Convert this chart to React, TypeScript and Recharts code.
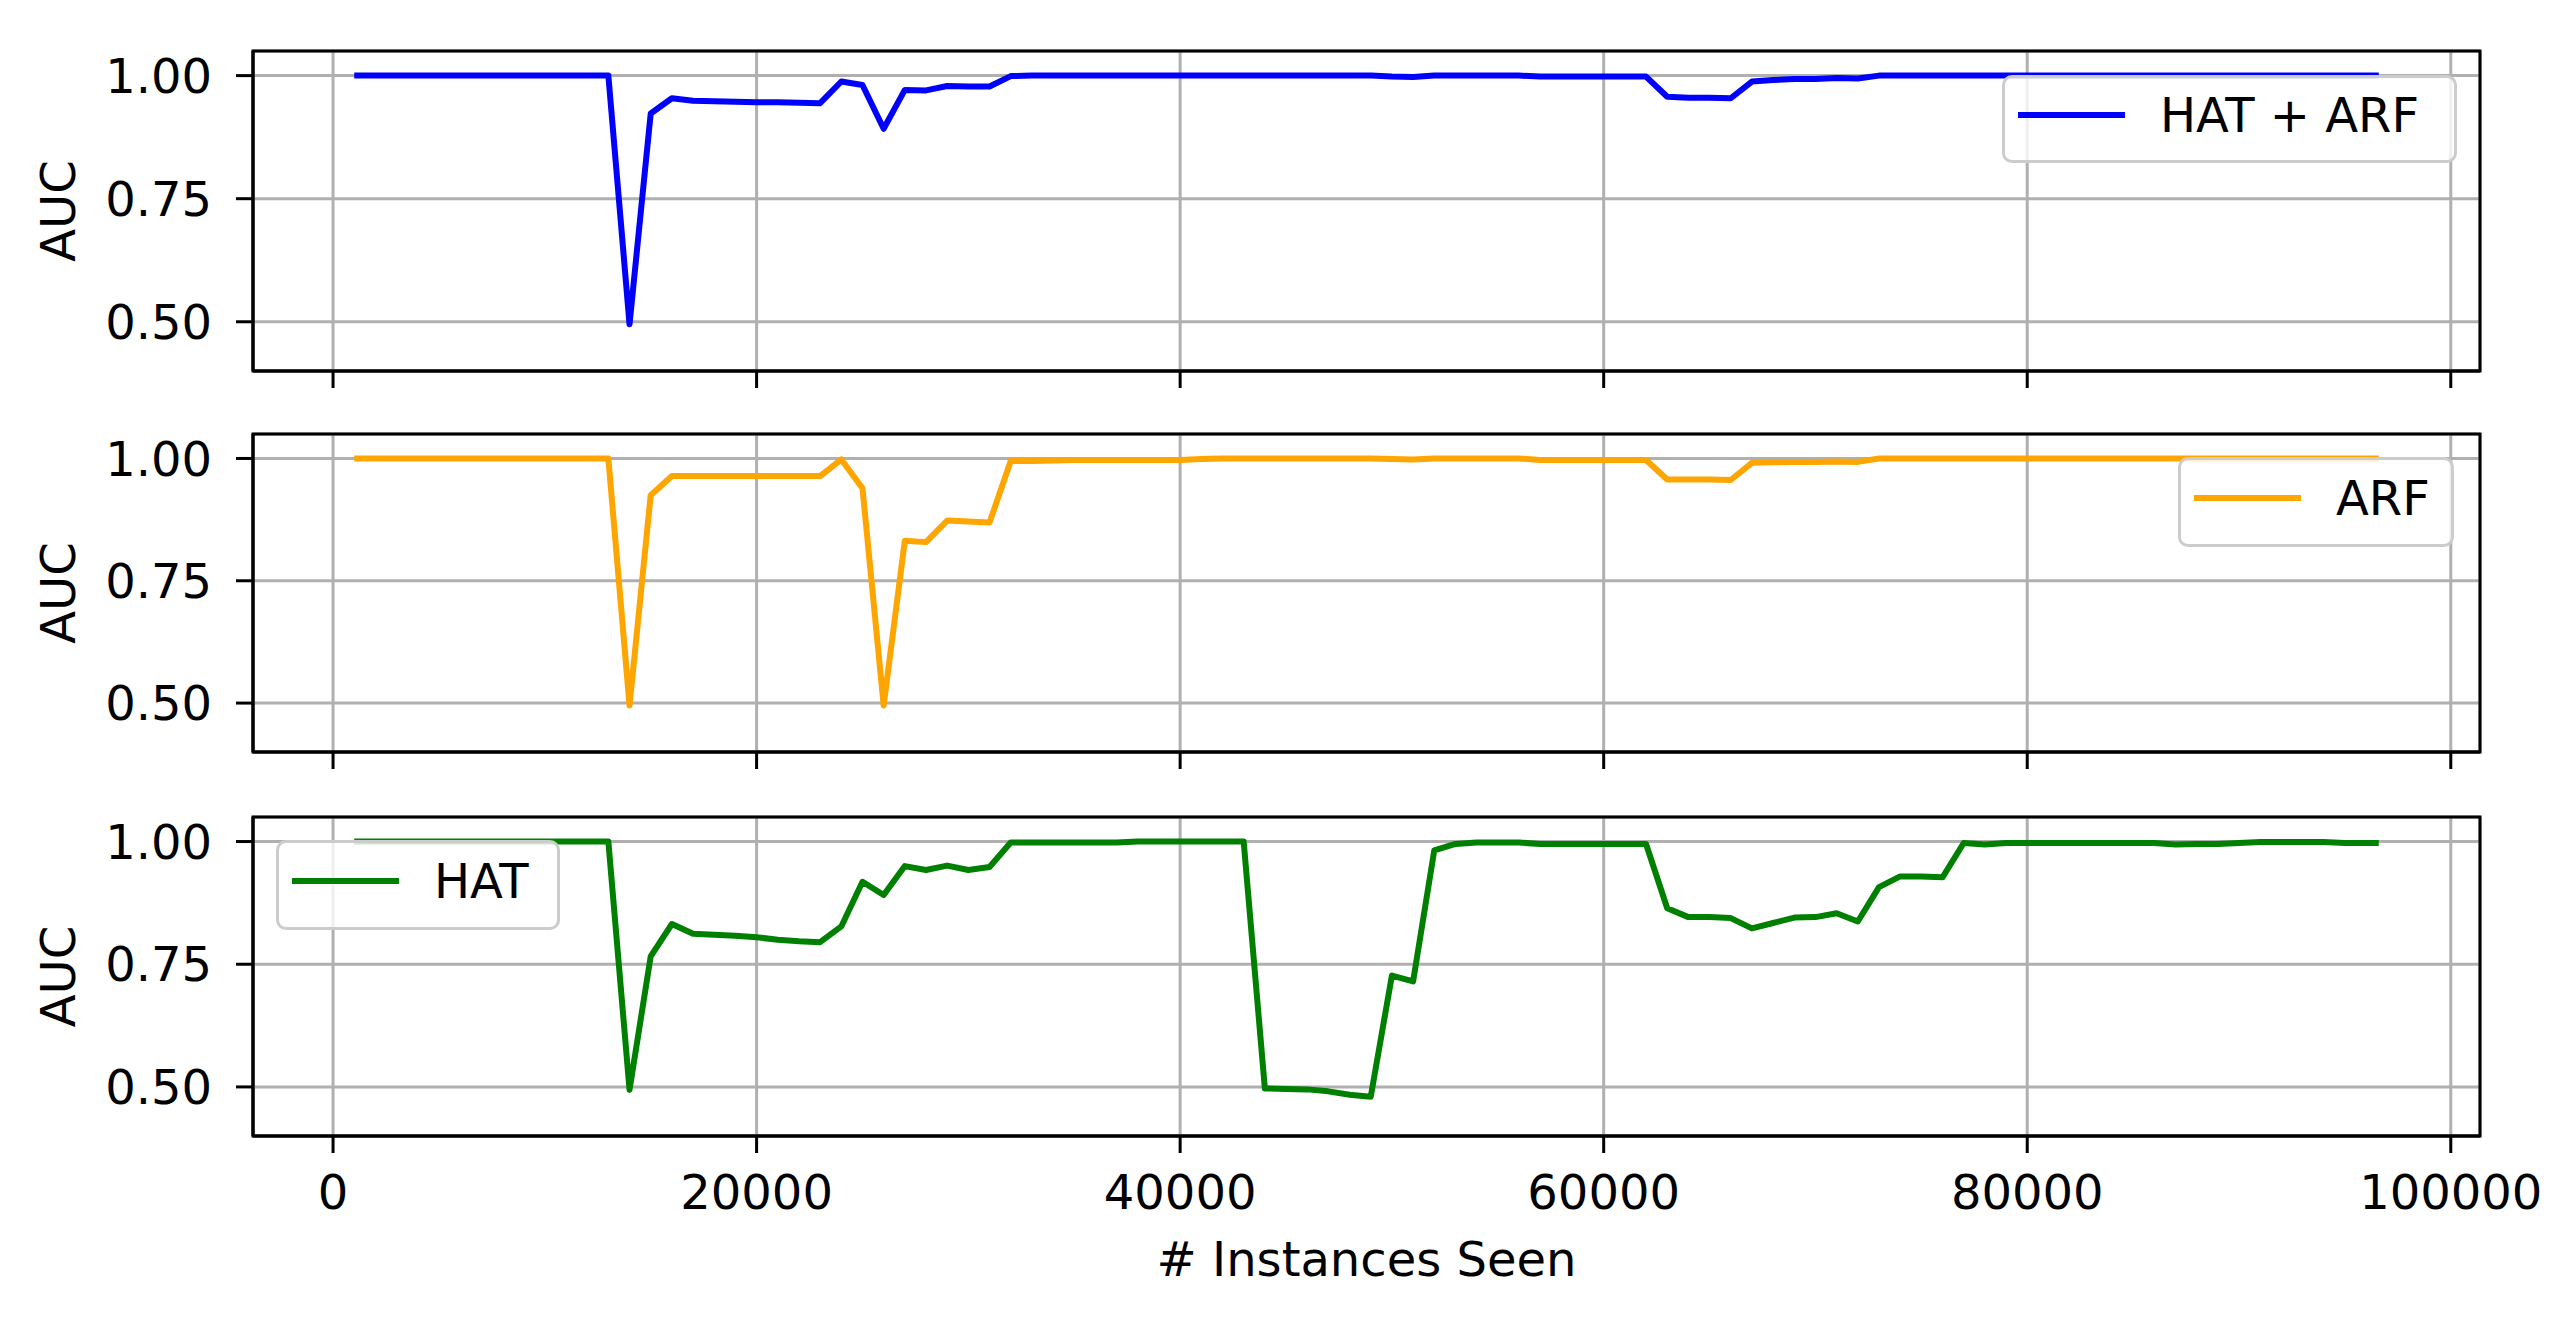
import React from 'react';
import { LineChart, Line, XAxis, YAxis, CartesianGrid, Legend, ReferenceArea } from 'recharts';

const FONT = 'DejaVu Sans';

// evaluation points (# instances seen)
const instances: number[] = [
  1000, 2000, 3000, 4000, 5000, 6000, 7000, 8000, 9000, 10000,
  11000, 12000, 13000, 14000, 15000, 16000, 17000, 18000, 19000, 20000,
  21000, 22000, 23000, 24000, 25000, 26000, 27000, 28000, 29000, 30000,
  31000, 32000, 33000, 34000, 35000, 36000, 37000, 38000, 39000, 40000,
  41000, 42000, 43000, 44000, 45000, 46000, 47000, 48000, 49000, 50000,
  51000, 52000, 53000, 54000, 55000, 56000, 57000, 58000, 59000, 60000,
  61000, 62000, 63000, 64000, 65000, 66000, 67000, 68000, 69000, 70000,
  71000, 72000, 73000, 74000, 75000, 76000, 77000, 78000, 79000, 80000,
  81000, 82000, 83000, 84000, 85000, 86000, 87000, 88000, 89000, 90000,
  91000, 92000, 93000, 94000, 95000, 96000, 96600,
];

const hatArfAuc: number[] = [
  1, 1, 1, 1, 1, 1, 1, 1, 1, 1,
  1, 1, 1, 0.495, 0.923, 0.954, 0.949, 0.948, 0.947, 0.946,
  0.946, 0.945, 0.944, 0.988, 0.981, 0.892, 0.971, 0.970, 0.979, 0.978,
  0.978, 0.999, 1, 1, 1, 1, 1, 1, 1, 1,
  1, 1, 1, 1, 1, 1, 1, 1, 1, 0.998,
  0.997, 1, 1, 1, 1, 1, 0.998, 0.998, 0.998, 0.998,
  0.998, 0.998, 0.957, 0.955, 0.955, 0.954, 0.988, 0.991, 0.993, 0.993,
  0.995, 0.994, 1, 1, 1, 1, 1, 1, 1, 1,
  1, 1, 1, 1, 1, 1, 1, 1, 1, 1,
  1, 1, 1, 1, 1, 1, 1,
];

const arfAuc: number[] = [
  1, 1, 1, 1, 1, 1, 1, 1, 1, 1,
  1, 1, 1, 0.495, 0.925, 0.964, 0.964, 0.964, 0.964, 0.964,
  0.964, 0.964, 0.964, 0.998, 0.939, 0.495, 0.832, 0.829, 0.873, 0.871,
  0.869, 0.995, 0.995, 0.996, 0.997, 0.997, 0.997, 0.997, 0.997, 0.997,
  0.999, 1, 1, 1, 1, 1, 1, 1, 1, 0.999,
  0.998, 1, 1, 1, 1, 1, 0.997, 0.997, 0.997, 0.997,
  0.997, 0.997, 0.957, 0.957, 0.957, 0.956, 0.991, 0.992, 0.993, 0.993,
  0.994, 0.993, 1, 1, 1, 1, 1, 1, 1, 1,
  1, 1, 1, 1, 1, 1, 1, 1, 1, 1,
  1, 1, 1, 1, 1, 1, 1,
];

const hatAuc: number[] = [
  1, 1, 1, 1, 1, 1, 1, 1, 1, 1,
  1, 1, 1, 0.494, 0.766, 0.832, 0.812, 0.810, 0.808, 0.805,
  0.800, 0.797, 0.795, 0.827, 0.918, 0.891, 0.950, 0.942, 0.951, 0.942,
  0.948, 0.998, 0.998, 0.998, 0.998, 0.998, 0.998, 1, 1, 1,
  1, 1, 1, 0.497, 0.496, 0.495, 0.491, 0.484, 0.480, 0.727,
  0.715, 0.982, 0.995, 0.998, 0.998, 0.998, 0.995, 0.995, 0.995, 0.995,
  0.995, 0.995, 0.864, 0.846, 0.846, 0.844, 0.823, 0.834, 0.845, 0.846,
  0.854, 0.837, 0.907, 0.929, 0.929, 0.927, 0.997, 0.994, 0.997, 0.997,
  0.997, 0.997, 0.997, 0.997, 0.997, 0.997, 0.994, 0.995, 0.995, 0.997,
  0.999, 0.999, 0.999, 0.999, 0.997, 0.997, 0.997,
];

const xTicks = [0, 20000, 40000, 60000, 80000, 100000];
const yTicks = [0.5, 0.75, 1.0];
const xDomain: [number, number] = [-3780, 101380];
const yDomain: [number, number] = [0.4, 1.05];

const data = instances.map((x, i) => ({
  x,
  hatArf: hatArfAuc[i],
  arf: arfAuc[i],
  hat: hatAuc[i],
}));

const tickFont = { fontSize: 48, fill: '#000', fontFamily: FONT };
const blackLine = { stroke: '#000', strokeWidth: 3 };

// shared x axis: upper panels keep tick marks but no labels
const noLabel = () => <g />;

const renderAucLabel = (props: any) => {
  const vb = props.viewBox || {};
  const cy = vb.y + vb.height / 2;
  return (
    <text x={75} y={cy} transform={`rotate(-90, 75, ${cy})`} textAnchor="middle"
      fontSize={48} fontFamily={FONT} fill="#000">AUC</text>
  );
};

const renderXLabel = (props: any) => {
  const vb = props.viewBox || {};
  return (
    <text x={vb.x + vb.width / 2} y={vb.y + 140} textAnchor="middle"
      fontSize={48} fontFamily={FONT} fill="#000"># Instances Seen</text>
  );
};

const LegendBox = (props: any) => {
  const item = (props.payload || [])[0];
  if (!item) return null;
  return (
    <div style={{
      boxSizing: 'border-box', width: '100%', height: '100%',
      border: '3px solid #cccccc', borderRadius: 10, background: 'rgba(255,255,255,0.8)',
      display: 'flex', alignItems: 'center', paddingLeft: 13, paddingBottom: 8,
      fontFamily: FONT, fontSize: 48, color: '#000', whiteSpace: 'nowrap',
    }}>
      <span style={{ display: 'inline-block', width: 107, height: 6, background: item.color, marginRight: 35 }} />
      <span style={{ lineHeight: 1 }}>{item.value}</span>
    </div>
  );
};

interface PanelProps {
  top: number;
  height: number;
  marginTop: number;
  marginBottom: number;
  xAxisHeight: number;
  dataKey: string;
  name: string;
  color: string;
  legend: { left: number; top: number; width: number; height: number };
  bottomPanel?: boolean;
}

const Panel = ({ top, height, marginTop, marginBottom, xAxisHeight, dataKey, name, color, legend, bottomPanel }: PanelProps) => (
  <div style={{ position: 'absolute', top, left: 0 }}>
    <LineChart width={2573} height={height} data={data}
      margin={{ top: marginTop, right: 93, bottom: marginBottom, left: 0 }}>
      <CartesianGrid stroke="#b0b0b0" strokeWidth={3} />
      <XAxis dataKey="x" type="number" domain={xDomain} ticks={xTicks} interval={0}
        allowDataOverflow height={xAxisHeight} axisLine={blackLine} tickLine={blackLine}
        tickSize={17} tickMargin={22} tick={bottomPanel ? tickFont : noLabel}
        label={bottomPanel ? renderXLabel : undefined} />
      <YAxis type="number" domain={yDomain} ticks={yTicks} allowDataOverflow width={253}
        axisLine={blackLine} tickLine={blackLine} tickSize={17} tickMargin={24} tick={tickFont}
        tickFormatter={(v: number) => v.toFixed(2)} label={renderAucLabel} />
      <Line type="linear" dataKey={dataKey} name={name} stroke={color} strokeWidth={6}
        strokeLinejoin="round" dot={false} activeDot={false} isAnimationActive={false} />
      {/* axes frame */}
      <ReferenceArea x1={xDomain[0]} x2={xDomain[1]} y1={yDomain[0]} y2={yDomain[1]}
        fill="none" fillOpacity={0} stroke="#000" strokeWidth={3} ifOverflow="visible" />
      <Legend layout="horizontal" verticalAlign="middle" align="center" content={LegendBox}
        wrapperStyle={{ left: legend.left, top: legend.top, width: legend.width, height: legend.height }} />
    </LineChart>
  </div>
);

const App = () => (
  <div style={{ position: 'absolute', top: 0, left: 0, width: 2573, height: 1323, background: '#fff' }}>
    <Panel top={0} height={400} marginTop={51} marginBottom={0} xAxisHeight={29}
      dataKey="hatArf" name="HAT + ARF" color="#0000ff"
      legend={{ left: 2002, top: 75, width: 455, height: 88 }} />
    <Panel top={400} height={380} marginTop={34} marginBottom={0} xAxisHeight={28}
      dataKey="arf" name="ARF" color="#ffa500"
      legend={{ left: 2178, top: 57, width: 276, height: 90 }} />
    <Panel top={780} height={543} marginTop={37} marginBottom={27} xAxisHeight={160}
      dataKey="hat" name="HAT" color="#008000"
      legend={{ left: 276, top: 60, width: 284, height: 90 }} bottomPanel />
  </div>
);

export default App;
